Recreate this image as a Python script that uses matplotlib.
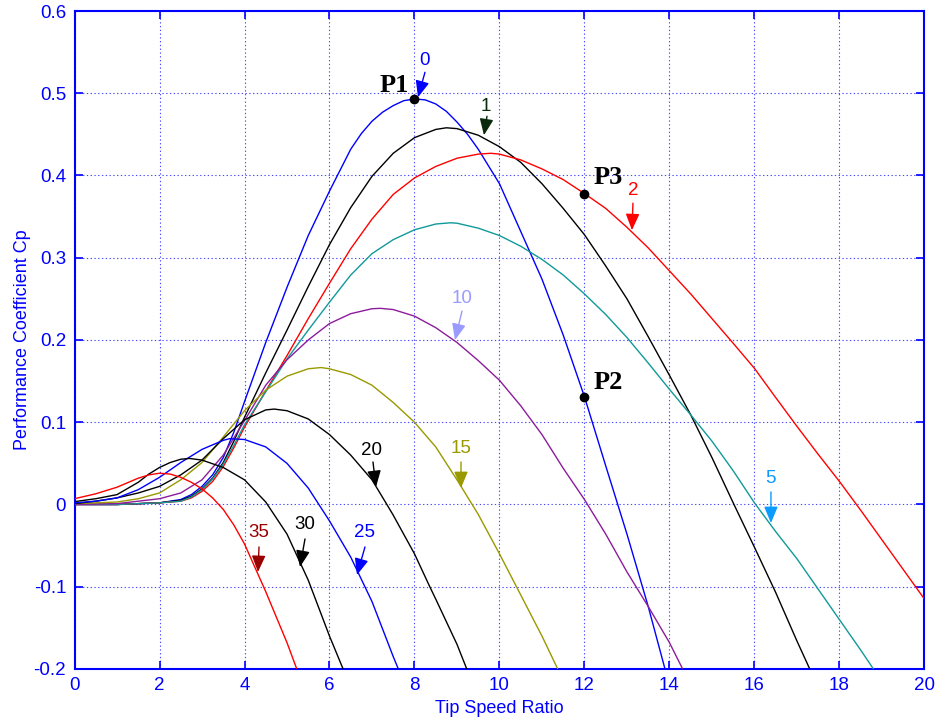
import matplotlib
matplotlib.use("Agg")
import matplotlib.pyplot as plt

# ---------------- data ----------------
lam_b0 = [0, 1, 2, 2.5, 2.75, 3, 3.25, 3.5, 3.75, 4, 4.5, 5, 5.5, 6, 6.5, 6.75, 7, 7.25, 7.5, 7.75, 8, 8.25, 8.5, 8.75, 9, 9.25, 9.5, 10, 10.5, 11, 11.5, 12, 12.5, 13, 13.5, 13.9]
cp_b0 = [0, 0, 0.002, 0.006, 0.012, 0.022, 0.036, 0.057, 0.088, 0.125, 0.197, 0.264, 0.327, 0.381, 0.432, 0.451, 0.466, 0.477, 0.485, 0.491, 0.493, 0.492, 0.487, 0.478, 0.465, 0.45, 0.432, 0.390, 0.332, 0.274, 0.206, 0.131, 0.047, -0.036, -0.124, -0.201]

lam_b1 = [0, 1, 2, 2.5, 2.75, 3, 3.25, 3.5, 3.75, 4, 4.5, 5, 5.5, 6, 6.5, 7, 7.5, 8, 8.5, 8.75, 9, 9.5, 10, 10.5, 11, 11.5, 12, 12.5, 13, 13.5, 14, 14.5, 15, 15.5, 16, 16.5, 17, 17.31]
cp_b1 = [0, 0, 0.002, 0.005, 0.01, 0.019, 0.032, 0.051, 0.077, 0.106, 0.16, 0.212, 0.265, 0.316, 0.361, 0.399, 0.427, 0.446, 0.456, 0.458, 0.457, 0.449, 0.435, 0.416, 0.39, 0.36, 0.328, 0.29, 0.25, 0.204, 0.157, 0.109, 0.057, 0.002, -0.052, -0.107, -0.166, -0.201]

lam_b2 = [0, 1, 2, 2.5, 2.75, 3, 3.25, 3.5, 3.75, 4, 4.5, 5, 5.5, 6, 6.5, 7, 7.5, 8, 8.5, 9, 9.5, 9.8, 10, 10.5, 11, 11.5, 12, 12.5, 13, 13.5, 14, 14.5, 15, 15.5, 16, 16.5, 17, 17.5, 18, 18.5, 19, 19.5, 20]
cp_b2 = [0, 0, 0.002, 0.004, 0.008, 0.016, 0.028, 0.046, 0.069, 0.094, 0.138, 0.181, 0.226, 0.269, 0.311, 0.347, 0.377, 0.397, 0.411, 0.421, 0.426, 0.427, 0.426, 0.419, 0.408, 0.395, 0.378, 0.36, 0.337, 0.312, 0.284, 0.256, 0.226, 0.196, 0.1655, 0.13, 0.095, 0.061, 0.028, -0.007, -0.043, -0.079, -0.115]

lam_b5 = [0, 1, 2, 2.5, 2.75, 3, 3.25, 3.5, 3.75, 4, 4.5, 5, 5.5, 6, 6.5, 7, 7.5, 8, 8.5, 8.85, 9, 9.5, 10, 10.5, 11, 11.5, 12, 12.5, 13, 13.5, 14, 14.5, 15, 15.5, 16, 16.5, 17, 17.5, 18, 18.5, 18.8]
cp_b5 = [0, 0, 0.002, 0.004, 0.009, 0.018, 0.031, 0.049, 0.072, 0.097, 0.137, 0.177, 0.212, 0.246, 0.279, 0.305, 0.322, 0.334, 0.341, 0.3425, 0.342, 0.336, 0.327, 0.314, 0.298, 0.279, 0.256, 0.231, 0.203, 0.172, 0.140, 0.109, 0.077, 0.041, 0.002, -0.033, -0.066, -0.103, -0.14, -0.177, -0.2]

lam_b10 = [0, 1, 2, 2.5, 3, 3.5, 4, 4.5, 5, 5.5, 6, 6.5, 7, 7.2, 7.5, 8, 8.5, 9, 9.5, 10, 10.5, 11, 11.5, 12, 12.5, 13, 13.5, 14, 14.32]
cp_b10 = [0, 0.001, 0.007, 0.014, 0.03, 0.06, 0.102, 0.145, 0.176, 0.2, 0.22, 0.232, 0.238, 0.2385, 0.237, 0.229, 0.215, 0.197, 0.175, 0.151, 0.12, 0.085, 0.044, 0.006, -0.036, -0.082, -0.124, -0.168, -0.201]

lam_b15 = [0, 1, 1.5, 2, 2.5, 3, 3.5, 4, 4.5, 5, 5.5, 5.8, 6, 6.5, 7, 7.5, 8, 8.5, 9, 9.5, 10, 10.5, 11, 11.38]
cp_b15 = [0.001, 0.003, 0.007, 0.014, 0.03, 0.051, 0.082, 0.114, 0.139, 0.156, 0.165, 0.1665, 0.165, 0.158, 0.145, 0.124, 0.1, 0.07, 0.03, -0.012, -0.06, -0.11, -0.16, -0.201]

lam_b20 = [0, 0.5, 1, 1.5, 2, 2.5, 3, 3.5, 4, 4.5, 4.7, 5, 5.5, 6, 6.5, 7, 7.35, 7.5, 8, 8.36, 8.5, 9, 9.23]
cp_b20 = [0.001, 0.004, 0.008, 0.014, 0.022, 0.036, 0.054, 0.08, 0.103, 0.115, 0.116, 0.114, 0.104, 0.085, 0.06, 0.03, 0.0, -0.013, -0.06, -0.1, -0.115, -0.17, -0.2]

lam_b25 = [0, 0.5, 1, 1.5, 2, 2.5, 3, 3.5, 3.65, 4, 4.5, 5, 5.5, 6, 6.5, 7, 7.5, 7.62]
cp_b25 = [0.002, 0.004, 0.008, 0.018, 0.033, 0.051, 0.067, 0.078, 0.08, 0.079, 0.07, 0.05, 0.02, -0.02, -0.064, -0.118, -0.185, -0.2]

lam_b30 = [0, 0.5, 1, 1.5, 1.75, 2, 2.25, 2.5, 2.7, 3, 3.5, 4, 4.5, 5, 5.5, 6, 6.32]
cp_b30 = [0.0035, 0.007, 0.012, 0.027, 0.037, 0.045, 0.051, 0.055, 0.056, 0.054, 0.045, 0.03, 0.003, -0.036, -0.092, -0.16, -0.2]

lam_b35 = [0, 0.5, 1, 1.5, 1.75, 2, 2.25, 2.5, 2.75, 3, 3.25, 3.5, 3.75, 4, 4.5, 5, 5.23]
cp_b35 = [0.007, 0.013, 0.021, 0.032, 0.036, 0.038, 0.037, 0.033, 0.027, 0.019, 0.008, -0.006, -0.025, -0.048, -0.106, -0.168, -0.2]

pitch_angles = [0, 1, 2, 5, 10, 15, 20, 25, 30, 35]
curve_colors = ['#0000ff', '#000000', '#ff0000', '#119999', '#8c1c9c',
                '#999900', '#000000', '#0000ff', '#000000', '#ff0000']
label_colors = ['#0000ff', '#0b2a0b', '#ff0000', '#0a9bff', '#9a9aff',
                '#999900', '#000000', '#0000ff', '#000000', '#990000']

points_name = ['P1', 'P2', 'P3']
points_lam = [8.0, 12.0, 12.0]
points_cp = [0.493, 0.131, 0.378]

x_ticks = [0, 2, 4, 6, 8, 10, 12, 14, 16, 18, 20]
y_ticks = [-0.2, -0.1, 0, 0.1, 0.2, 0.3, 0.4, 0.5, 0.6]
y_tick_labels = ['-0.2', '-0.1', '0', '0.1', '0.2', '0.3', '0.4', '0.5', '0.6']

curves = [(lam_b0, cp_b0), (lam_b1, cp_b1), (lam_b2, cp_b2), (lam_b5, cp_b5),
          (lam_b10, cp_b10), (lam_b15, cp_b15), (lam_b20, cp_b20),
          (lam_b25, cp_b25), (lam_b30, cp_b30), (lam_b35, cp_b35)]

# ---------------- figure ----------------
plt.rcParams['font.family'] = ['Liberation Sans', 'DejaVu Sans']
fig = plt.figure(figsize=(9.35, 7.24), dpi=100)
ax = fig.add_axes([0.0797, 0.076, 0.909, 0.9088])

BLUE = '#0000ff'
for (lx, cy), col in zip(curves, curve_colors):
    ax.plot(lx, cy, color=col, lw=1.0, zorder=3, solid_joinstyle='round')

ax.set_xlim(0, 20)
ax.set_ylim(-0.2, 0.6)
ax.set_xticks(x_ticks)
ax.set_yticks(y_ticks)
ax.set_yticklabels(y_tick_labels)
ax.grid(True, color='#4a4aff', linestyle=(0, (1.2, 2.2)), lw=0.8)
ax.tick_params(direction='in', length=6, width=1.2, colors=BLUE,
               labelcolor=BLUE, labelsize=13.5, top=True, right=True, pad=6)
for s in ax.spines.values():
    s.set_color(BLUE)
    s.set_linewidth(1.5)
ax.set_xlabel('Tip Speed Ratio', color=BLUE, fontsize=13, labelpad=4)
ax.set_ylabel('Performance Coefficient Cp', color=BLUE, fontsize=13, labelpad=2)

# ---------------- annotations (pixel-derived positions) ----------------
def px2d(px, py):
    return ((px - 74.5) / 42.5, (504.5 - py) / 823.0)

# (label, text px, tail px, head px)
ann = [
    ('0', (425, 60), (425, 72), (418, 97)),
    ('1', (486, 106), (487, 116), (484, 135)),
    ('2', (633, 190), (633, 203), (632, 230)),
    ('5', (771, 479), (771, 492), (771, 523)),
    ('10', (462, 298), (462, 311), (455, 340)),
    ('15', (461, 448), (461, 462), (461, 488)),
    ('20', (372, 450), (373, 462), (376, 487)),
    ('25', (365, 533), (365, 547), (357, 575)),
    ('30', (305, 525), (305, 539), (300, 567)),
    ('35', (259, 533), (259, 547), (258, 572)),
]
for (lab, tp, tl, hd), col in zip(ann, label_colors):
    ax.text(*px2d(*tp), lab, color=col, fontsize=13.5, ha='center', va='center', zorder=6)
    ax.annotate('', xy=px2d(*hd), xytext=px2d(*tl),
                arrowprops=dict(arrowstyle='-|>,head_length=1.0,head_width=0.42',
                                color=col, lw=1.0, shrinkA=0, shrinkB=0,
                                mutation_scale=10), zorder=6)

p_text_px = [(394, 85), (608, 382), (608, 177)]
for name, lx, cy, tp in zip(points_name, points_lam, points_cp, p_text_px):
    ax.plot([lx], [cy], 'o', color='black', ms=6, zorder=7)
    ax.text(*px2d(*tp), name, family=['Liberation Serif', 'DejaVu Serif'],
            fontweight='bold', fontsize=19, color='black', ha='center', va='center', zorder=7)

fig.savefig('out.png', dpi=100)
